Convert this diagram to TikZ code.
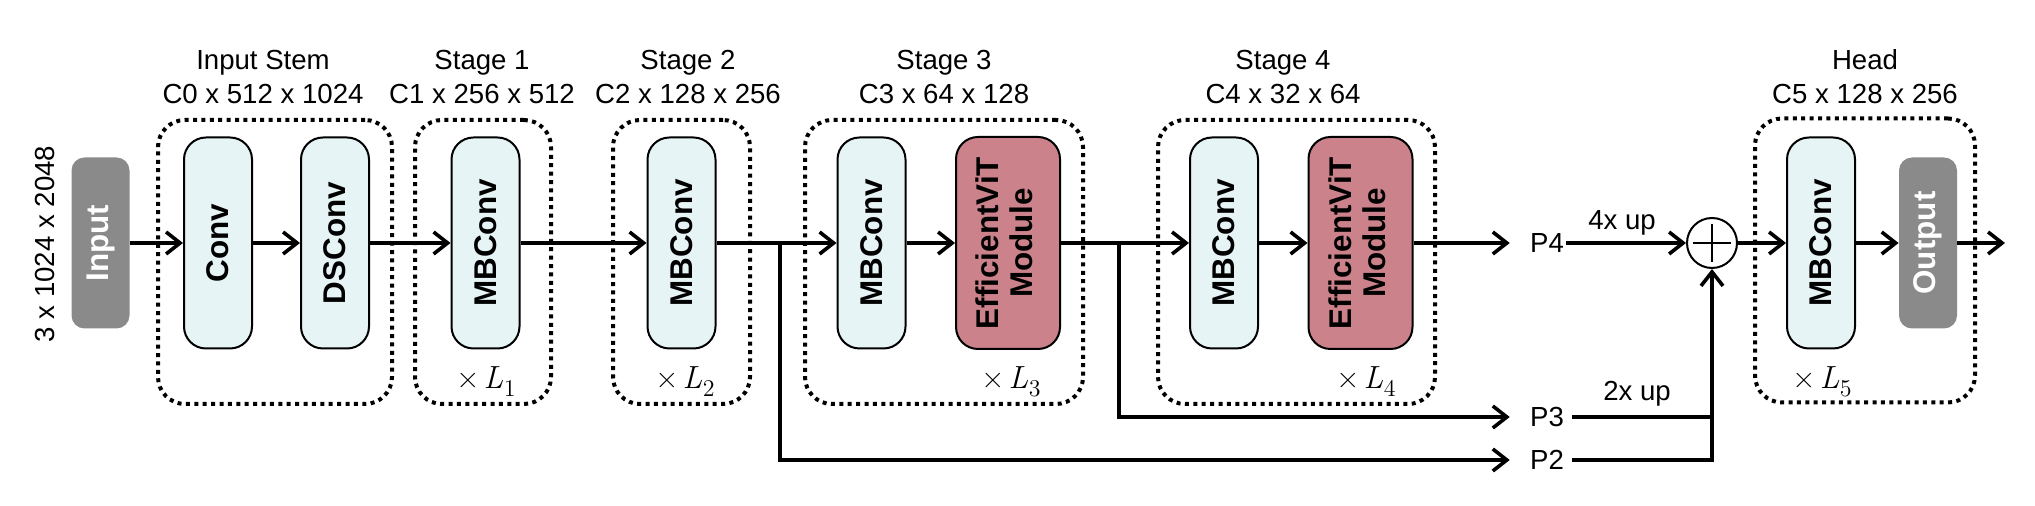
\documentclass[tikz,border=0pt]{standalone}
\usepackage{fontspec}
\setmainfont{Liberation Sans}
\newfontfamily\lmrfont{Latin Modern Roman}
\usetikzlibrary{arrows.meta,calc}
\definecolor{mbfill}{HTML}{E6F4F5}
\definecolor{evfill}{HTML}{CB828B}
\definecolor{iogrey}{HTML}{8A8A8A}
\newcommand{\repl}[1]{{\lmrfont ×\kern2.2pt\textit{L}\kern0.3pt\raisebox{-0.22em}{\fontsize{12}{12}\selectfont #1}}}
\begin{document}
\begin{tikzpicture}[x=0.5pt,y=-0.5pt,
  lbl/.style={font=\fontsize{13.8}{16}\selectfont, inner sep=0},
  blk/.style={draw=black, line width=1pt, rounded corners=11pt, inner sep=0, font=\fontsize{15.7}{19}\selectfont\bfseries},
  mbc/.style={blk, fill=mbfill, minimum width=34pt, minimum height=105.5pt},
  evm/.style={blk, fill=evfill, minimum width=52pt, minimum height=106pt},
  iob/.style={fill=iogrey, rounded corners=6.5pt, minimum width=29pt, minimum height=85.5pt, inner sep=0, text=white, font=\fontsize{15.7}{19}\selectfont\bfseries},
  grp/.style={draw=black, line width=2pt, dash pattern=on 2pt off 2.2pt, rounded corners=13.5pt, inner sep=0, minimum height=142pt},
  arr/.style={line width=1.8pt, -{Straight Barb[length=7pt,width=11pt]}},
  ln/.style={line width=1.8pt},
  rep/.style={font=\fontsize{16}{18}\selectfont, inner sep=0, anchor=base}
]
\useasboundingbox (0,0) rectangle (2035,506);

% group boxes
\node[grp, minimum width=117pt] (gstem) at (275,262) {};
\node[grp, minimum width=68pt] (g1) at (483,262) {};
\node[grp, minimum width=68.5pt] (g2) at (681.5,262) {};
\node[grp, minimum width=139pt] (g3) at (944,262) {};
\node[grp, minimum width=138.5pt] (g4) at (1296.5,262) {};
\node[grp, minimum width=110pt] (gh) at (1865,260.5) {};

% titles
\node[lbl, anchor=base] (t0) at (263,70) {Input Stem};
\node[lbl, anchor=base] (d0) at (263,104) {C0 x 512 x 1024};
\node[lbl, anchor=base] (t1) at (482,70) {Stage 1};
\node[lbl, anchor=base] (d1) at (482,104) {C1 x 256 x 512};
\node[lbl, anchor=base] (t2) at (688,70) {Stage 2};
\node[lbl, anchor=base] (d2) at (688,104) {C2 x 128 x 256};
\node[lbl, anchor=base] (t3) at (944,70) {Stage 3};
\node[lbl, anchor=base] (d3) at (944,104) {C3 x 64 x 128};
\node[lbl, anchor=base] (t4) at (1283,70) {Stage 4};
\node[lbl, anchor=base] (d4) at (1283,104) {C4 x 32 x 64};
\node[lbl, anchor=base] (th) at (1865,70) {Head};
\node[lbl, anchor=base] (dh) at (1865,104) {C5 x 128 x 256};

% input dimension
\node[lbl, rotate=90] (dim) at (45,244) {3 x 1024 x 2048};

% blocks
\node[iob] (in) at (100.5,243) {\rotatebox{90}{Input}};
\node[mbc] (conv) at (218,243) {\rotatebox{90}{Conv}};
\node[mbc] (ds) at (335,243) {\rotatebox{90}{DSConv}};
\node[mbc] (mb1) at (485.5,243) {\rotatebox{90}{MBConv}};
\node[mbc] (mb2) at (681.5,243) {\rotatebox{90}{MBConv}};
\node[mbc] (mb3) at (871.5,243) {\rotatebox{90}{MBConv}};
\node[evm] (ev3) at (1008,243) {\rotatebox{90}{\begin{tabular}{@{}c@{}}EfficientViT\\[-2pt]Module\end{tabular}}};
\node[mbc] (mb4) at (1224,243) {\rotatebox{90}{MBConv}};
\node[evm] (ev4) at (1360.5,243) {\rotatebox{90}{\begin{tabular}{@{}c@{}}EfficientViT\\[-2pt]Module\end{tabular}}};
\node[mbc] (mbh) at (1821,243) {\rotatebox{90}{MBConv}};
\node[iob] (out) at (1928,243) {\rotatebox{90}{Output}};

% repeat labels
\node[rep] (r1) at (486,389) {\repl{1}};
\node[rep] (r2) at (685,389) {\repl{2}};
\node[rep] (r3) at (1011,389) {\repl{3}};
\node[rep] (r4) at (1366,389) {\repl{4}};
\node[rep] (r5) at (1822,389) {\repl{5}};

% pyramid labels
\node[lbl] (p4) at (1547,243) {P4};
\node[lbl] (p3) at (1547,417) {P3};
\node[lbl] (p2) at (1547,460) {P2};
\node[lbl, anchor=base] (u4) at (1622,230) {4x up};
\node[lbl, anchor=base] (u2) at (1637,401) {2x up};

% sum
\node[circle, draw=black, line width=1pt, minimum size=25pt, inner sep=0] (plus) at (1712,243) {};
\draw[line width=1pt] ($(plus.center)+(-19,0)$) -- ($(plus.center)+(19,0)$);
\draw[line width=1pt] ($(plus.center)+(0,-19)$) -- ($(plus.center)+(0,19)$);

\coordinate (b2) at (780,243);
\coordinate (b3) at (1119,243);
\coordinate (oend) at (2005,243);

% connectors
\draw[arr] (in.east) -- (in.east -| conv.west);
\draw[arr] (conv.east) -- (conv.east -| ds.west);
\draw[arr] (ds.east) -- (ds.east -| mb1.west);
\draw[arr] (mb1.east) -- (mb1.east -| mb2.west);
\draw[arr] (mb2.east) -- (mb2.east -| mb3.west);
\draw[arr] (mb3.east) -- (mb3.east -| ev3.west);
\draw[arr] (ev3.east) -- (ev3.east -| mb4.west);
\draw[arr] (mb4.east) -- (mb4.east -| ev4.west);
\draw[arr, shorten >=10pt] (ev4.east) -- (ev4.east -| p4.west);
\draw[arr, shorten >=10pt] (b2) |- (p2.west);
\draw[arr, shorten >=10pt] (b3) |- (p3.west);
\draw[arr, shorten <=1pt] (p4.east) -- (plus.west);
\draw[ln, shorten <=4pt] (p3.east) -- (p3.east -| plus.south);
\draw[arr, shorten <=4pt] (p2.east) -| (plus.south);
\draw[arr] (plus.east) -- (plus.east -| mbh.west);
\draw[arr] (mbh.east) -- (mbh.east -| out.west);
\draw[arr] (out.east) -- (out.east -| oend);
\end{tikzpicture}
\end{document}
